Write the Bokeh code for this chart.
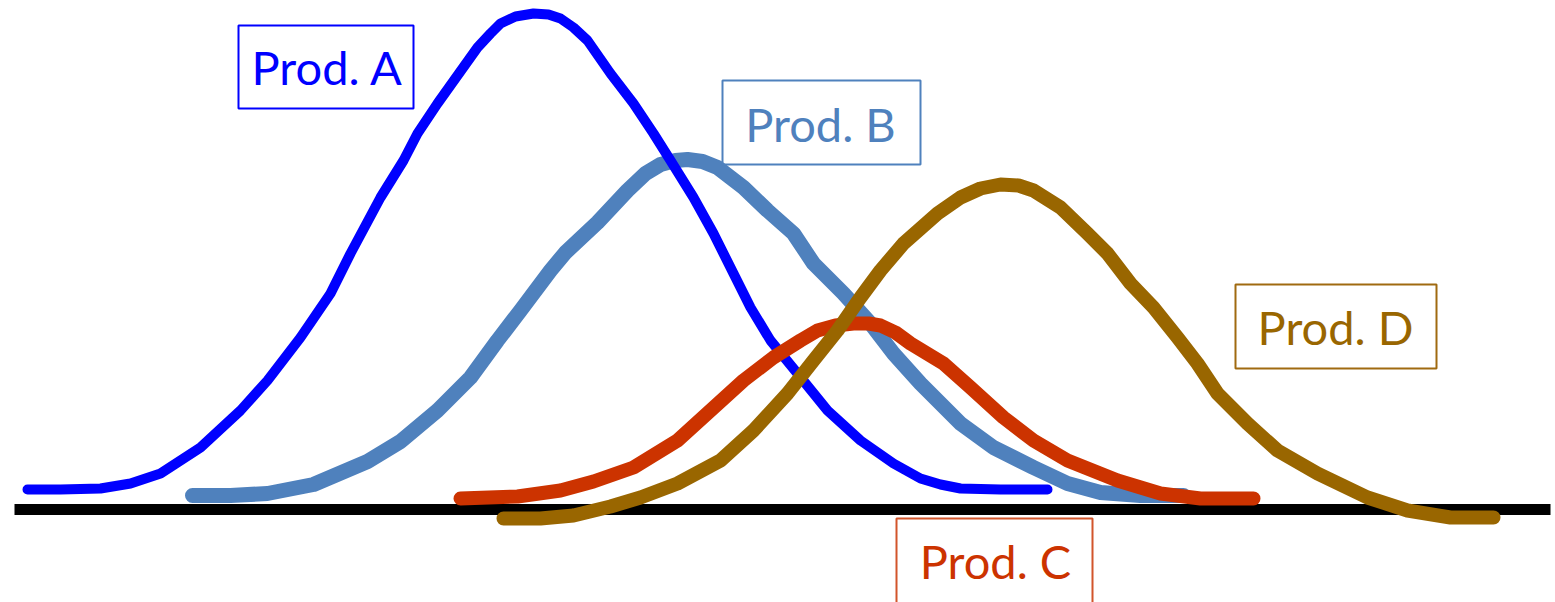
from bokeh.plotting import figure
from bokeh.models import Range1d
from bokeh.embed import file_html
from bokeh.resources import INLINE
from bokeh.core.properties import value

# ---- data (screen-like coordinates: y grows downward) ----
a_x = [27, 60, 100, 130, 160, 200, 240, 267, 300, 330, 350, 380, 403, 417, 437, 457, 477, 490, 500,
       515, 533, 548, 560, 573, 587, 610, 633, 653, 670, 693, 713, 733, 750, 770, 797, 827, 860,
       893, 920, 940, 960, 1000, 1047]
a_y = [489, 489, 488, 483, 473, 447, 410, 380, 337, 293, 253, 197, 160, 133, 103, 75, 47, 33, 23,
       16, 13, 14, 18, 27, 40, 73, 103, 133, 160, 197, 233, 273, 307, 340, 373, 410, 440,
       463, 478, 484, 488, 489, 489]

b_x = [192, 230, 267, 313, 367, 400, 437, 470, 497, 520, 550, 565, 597, 627, 645, 660, 675, 687,
       702, 717, 743, 767, 793, 813, 843, 870, 893, 920, 960, 993, 1033, 1067, 1100, 1140, 1183]
b_y = [495, 495, 493, 484, 461, 441, 410, 377, 340, 310, 270, 252, 222, 190, 173, 164, 160, 159,
       161, 167, 187, 210, 233, 263, 293, 323, 353, 383, 423, 447, 467, 483, 492, 495, 495]

c_x = [460, 517, 560, 593, 633, 677, 710, 743, 773, 800, 817, 835, 853, 868, 880, 895, 910, 943,
       970, 1003, 1033, 1067, 1117, 1160, 1200, 1253]
c_y = [498, 496, 490, 481, 467, 440, 410, 380, 357, 340, 330, 325, 323, 323, 325, 332, 343, 363,
       387, 417, 440, 460, 480, 493, 498, 498]

d_x = [503, 540, 573, 610, 640, 677, 720, 753, 787, 813, 837, 860, 880, 903, 937, 960, 980, 1000,
       1018, 1033, 1060, 1087, 1107, 1130, 1153, 1177, 1197, 1217, 1247, 1277, 1317, 1367, 1407,
       1450, 1493]
d_y = [518, 518, 515, 506, 497, 483, 460, 430, 393, 360, 330, 297, 270, 243, 213, 197, 188, 184,
       185, 190, 207, 233, 253, 283, 307, 337, 363, 393, 423, 450, 473, 497, 510, 517, 517]

labels = ["Prod. A", "Prod. B", "Prod. C", "Prod. D"]
colors = ["#0000FF", "#4F81BD", "#CC3300", "#996600"]
box_colors = ["#0000FF", "#4F81BD", "#D2552B", "#A06A10"]
box_left = [238, 722, 896, 1235]
box_right = [413, 920, 1092, 1436]
box_top = [25, 80, 518, 284]
box_bottom = [108, 164, 640, 368]
label_x = [327, 820, 995, 1335]
label_mid = [66, 123, 560, 326]

base_x = [14, 1550]
base_y = [509, 509]

W, H = 1555, 602

# ---- figure ----
p = figure(width=W, height=H, output_backend="svg", toolbar_location=None,
           x_range=Range1d(0, W), y_range=Range1d(H, 0), min_border=0)
p.axis.visible = False
p.grid.visible = False
p.outline_line_color = None
p.background_fill_color = "white"
p.border_fill_color = "white"

# baseline
p.line(base_x, base_y, line_color="black", line_width=11, line_cap="butt")

series = [(b_x, b_y, colors[1], 15), (a_x, a_y, colors[0], 10),
          (c_x, c_y, colors[2], 14), (d_x, d_y, colors[3], 14)]
for xs, ys, col, w in series:
    p.line(xs, ys, line_color=col, line_width=w, line_cap="round", line_join="round")

# label boxes
p.quad(left=box_left, right=box_right, top=box_top, bottom=box_bottom,
       fill_color="white", fill_alpha=0, line_color=box_colors, line_width=2)

p.text(x=label_x, y=label_mid, text=labels, text_color=colors,
       text_font=value("Lato"), text_font_size="47px",
       text_align="center", text_baseline="middle")

open("out.html", "w").write(file_html(p, INLINE))
